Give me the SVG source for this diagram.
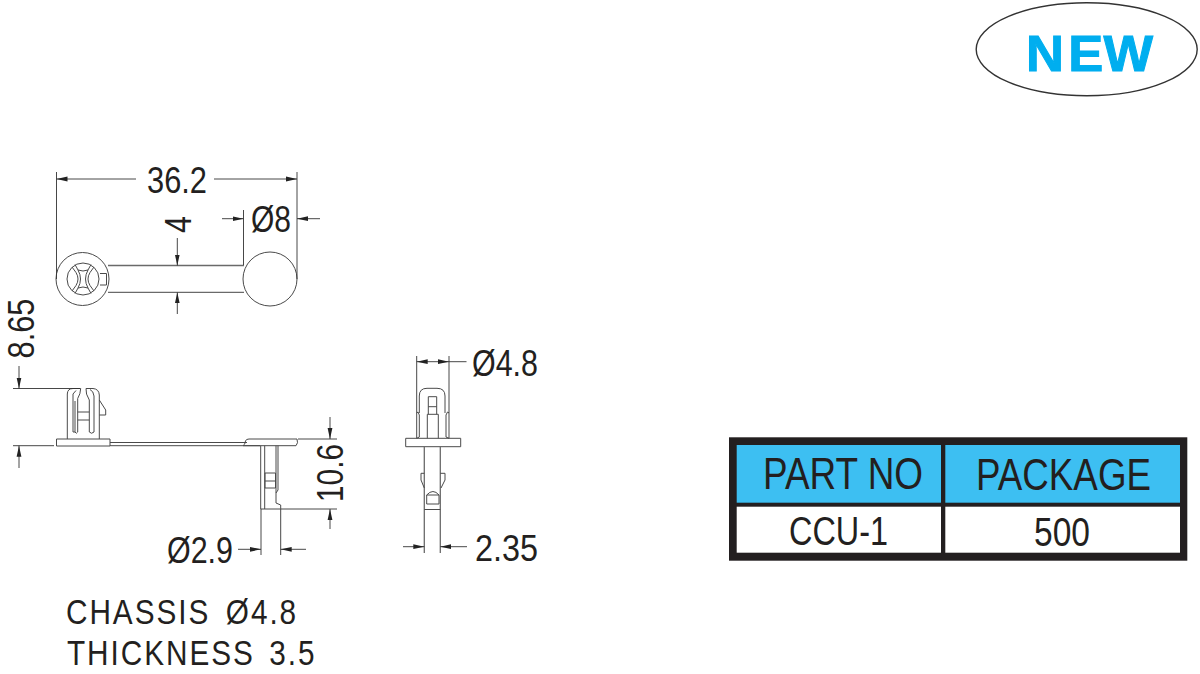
<svg xmlns="http://www.w3.org/2000/svg" width="1200" height="674" viewBox="0 0 1200 674">
<style>
text{font-family:"Liberation Sans",Arial,sans-serif;fill:#231f20}
.d{font-size:37px}
.t{font-size:35px;letter-spacing:2.3px}
.h{font-size:44px}
.c{font-size:40px}
.p{fill:none;stroke:#4a4a4a;stroke-width:1;stroke-linejoin:round}
.g{fill:none;stroke:#6a6a6a;stroke-width:1.3}
.e{fill:none;stroke:#333;stroke-width:.9}
.a{fill:none;stroke:#333;stroke-width:.9;marker-end:url(#ah)}
</style>
<defs>
<marker id="ah" markerUnits="userSpaceOnUse" markerWidth="12" markerHeight="6" refX="11" refY="3" orient="auto"><path d="M0 .6L11 3L0 5.4Z" fill="#222"/></marker>
</defs>
<rect width="1200" height="674" fill="#fff"/>
<g id="new-badge">
<ellipse cx="1086.7" cy="49.3" rx="110.5" ry="46.5" fill="#fff" stroke="#333" stroke-width="1.4"/>
<text transform="translate(1026 70.5) scale(1.05 1)" x="0 40.3 73.8" y="0" style="font-size:50px;font-weight:bold;fill:#00aeef;stroke:#00aeef;stroke-width:1">NEW</text>
</g>
<g id="top-view">
<circle cx="82.5" cy="279" r="26.5" class="p"/>
<circle cx="270" cy="279" r="27" class="p"/>
<path class="g" d="M108 265.5H244M108 292.4H244"/>
<circle cx="83" cy="279" r="16" class="p"/>
<path class="p" d="M75 264.5L78 270Q83 272 88 270L91 264.5M75 293.5L78 288Q83 286 88 288L91 293.5M78 270Q83 279 78 288M88 270Q83 279 88 288M72 267L76 272.5Q80 279 76 285.5L72 291M94 267L90 272.5Q86 279 90 285.5L94 291"/>
<path class="p" d="M100 273.5H106.5V285H100"/>
</g>
<g id="side-view">
<path class="p" d="M56.5 446V439H110V446ZM110 442.5H247M110 445.7H260"/>
<path class="p" d="M67.3 439V394Q67.5 388.5 73 388.5H80.7Q80.5 394 77.7 398.5V432Q76.3 434.5 75 432H73V394L76 390.5M75 432V401"/>
<path class="p" d="M86 388.5H93Q99 389 99.3 395V400L105.7 410V415H99.3V439M99.3 415V400M86 388.5Q85.5 394 89.3 400V432Q91.5 434.5 94 432V396Q93.5 391 90 389.5M77.7 412H89.3M77.7 420H89.3"/>
<path class="p" d="M243 445.7Q245 445 245.5 441Q246 439 249 439H297Q298.5 443 296 445.7H243Z"/>
<path class="p" d="M260.7 445.7V509H280.7V505L276 503V493L278 490V445.7M264.7 445.7V509M276 445.7V493M265 473H275.5V488H265ZM265 481H275.5"/>
</g>
<g id="front-view">
<path class="p" d="M419.3 413V396Q419.3 388.3 427 388.3H437Q445 388.3 445 396V413"/>
<path class="p" d="M416.7 438.3V413L418 412L419.3 415V437L416.7 438.3M449 438.3V413L447.5 412L446 415V437L449 438.3"/>
<path class="p" d="M428.3 414.3V396.7H436.7V414.3M428.3 406.7H436.7M427.3 438.3V414.3H438.3V438.3"/>
<path class="p" d="M405.7 438.3H460.7V446.7H405.7Z"/>
<path class="g" d="M424.3 446.7V553M440.3 446.7V553"/>
<path class="p" d="M424.3 473.3H421V480L424.3 488M440.3 473.3H445V480L441 488M426.7 504V495H439V504ZM426.7 495Q433 488 439 495M424.3 509.5H440.3"/>
</g>
<g id="connectors">
<path class="e" d="M56.5 172V279M297 172V279M243.5 210V265M13 388.5H80M13 445.7H54M298 439H337M281 509H337M261 509V555M280.7 509V555M416.7 356V413M449 356V413"/>
<path class="a" d="M136 179H56.5"/><path class="a" d="M214 179H297"/>
<path class="a" d="M222 218.7H243.5"/><path class="a" d="M320 218.7H297"/>
<path class="a" d="M177.3 238V265.5"/><path class="a" d="M177.3 314V292.4"/>
<path class="a" d="M19 366V388.5"/><path class="a" d="M19 468V445.7"/>
<path class="a" d="M330 417V439"/><path class="a" d="M330 529V509"/>
<path class="a" d="M238 549.3H261"/><path class="a" d="M306 549.3H280.7"/>
<path class="a" d="M433 361.7H416.7"/><path class="a" d="M433 361.7H449"/><path class="e" d="M449 361.7H466.5"/>
<path class="a" d="M403 546.7H424.3"/><path class="a" d="M467 546.7H440.3"/>
</g>
<g id="labels">
<text class="d" x="147" y="193" textLength="60" lengthAdjust="spacingAndGlyphs">36.2</text>
<text class="d" x="251" y="232" textLength="40" lengthAdjust="spacingAndGlyphs">Ø8</text>
<text class="d" transform="translate(190.5 233) rotate(-90)" textLength="17" lengthAdjust="spacingAndGlyphs">4</text>
<text class="d" transform="translate(33.5 358.5) rotate(-90)" textLength="60" lengthAdjust="spacingAndGlyphs">8.65</text>
<text class="d" transform="translate(343 502) rotate(-90)" textLength="58" lengthAdjust="spacingAndGlyphs">10.6</text>
<text class="d" x="167" y="563" textLength="66" lengthAdjust="spacingAndGlyphs">Ø2.9</text>
<text class="d" x="472" y="376" textLength="66" lengthAdjust="spacingAndGlyphs">Ø4.8</text>
<text class="d" x="475" y="560.5" textLength="63" lengthAdjust="spacingAndGlyphs">2.35</text>
<text class="t" transform="translate(66 624) scale(.85 1)">CHASSIS <tspan x="188">Ø4.8</tspan></text>
<text class="t" transform="translate(67 665) scale(.85 1)">THICKNESS <tspan x="238">3.5</tspan></text>
</g>
<g id="table">
<rect x="729" y="437.3" width="458.3" height="123.4" fill="#231f20"/>
<rect x="736.7" y="445" width="204.3" height="57.7" fill="#3dbff2"/>
<rect x="945.3" y="445" width="234.7" height="57.7" fill="#3dbff2"/>
<rect x="736.7" y="506.7" width="204.3" height="46" fill="#fff"/>
<rect x="945.3" y="506.7" width="234.7" height="46" fill="#fff"/>
<text class="h" x="763" y="489" textLength="160" lengthAdjust="spacingAndGlyphs">PART NO</text>
<text class="h" x="976" y="490" textLength="175" lengthAdjust="spacingAndGlyphs">PACKAGE</text>
<text class="c" x="789" y="545" textLength="99" lengthAdjust="spacingAndGlyphs">CCU-1</text>
<text class="c" x="1034" y="546" textLength="56" lengthAdjust="spacingAndGlyphs">500</text>
</g>
</svg>
